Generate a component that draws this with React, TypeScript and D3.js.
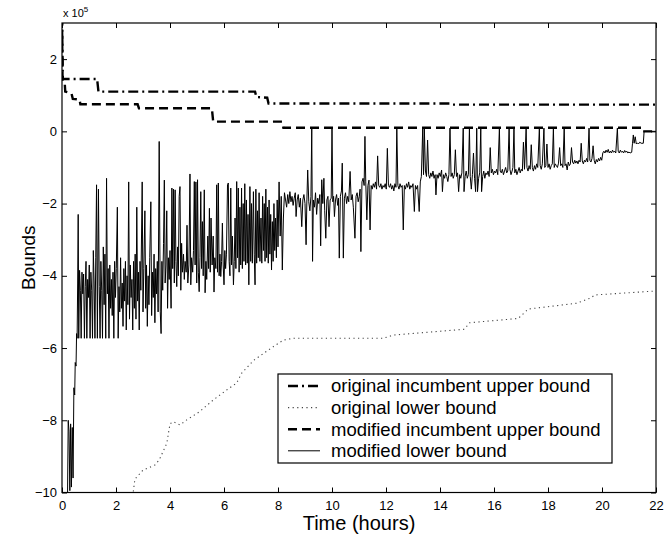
import React, { useEffect, useRef } from "react";
import * as d3 from "d3";

// values are in units of 1e5
const xTicks = [0, 2, 4, 6, 8, 10, 12, 14, 16, 18, 20, 22];
const yTicks = [-10, -8, -6, -4, -2, 0, 2];

const seriesNames = [
  "original incumbent upper bound",
  "original lower bound",
  "modified incumbent upper bound",
  "modified lower bound",
];

// [time (hours), bound]
const origUpper: [number, number][] = [
  [0, 3.2], [0.03, 1.45], [1.3, 1.45], [1.35, 1.1], [7.15, 1.1], [7.2, 0.95],
  [7.6, 0.93], [7.65, 0.77], [14.4, 0.77], [14.45, 0.74], [22, 0.74],
];

const origLower: [number, number][] = [
  [2.62, -10.1], [2.7, -9.63], [3.0, -9.38], [3.44, -9.24], [3.6, -9.1], [3.88, -8.64],
  [4.0, -8.1], [4.12, -8.04], [4.37, -8.13], [4.62, -7.99], [5.1, -7.76], [5.6, -7.44],
  [6.1, -7.16], [6.47, -6.97], [6.65, -6.7], [7.1, -6.34], [7.83, -5.96], [8.2, -5.78],
  [8.57, -5.73], [11.9, -5.73], [12.27, -5.64], [14.9, -5.48], [15.1, -5.3], [16.9, -5.18],
  [17.27, -4.92], [19.06, -4.76], [19.56, -4.62], [19.74, -4.53], [22, -4.42],
];

const modUpper: [number, number][] = [
  [0, 3.2], [0.02, 1.4], [0.1, 1.35], [0.12, 1.1], [0.35, 1.05], [0.4, 0.9], [0.65, 0.88],
  [0.68, 0.75], [2.8, 0.75], [2.85, 0.64], [5.55, 0.64], [5.6, 0.27], [8.15, 0.27],
  [8.2, 0.1], [21.47, 0.1], [21.5, 0.0], [22, 0.0],
];

const modLower: [number, number][] = [
  [0.2, -10.5], [0.23, -8.0], [0.26, -8.3], [0.29, -9.95], [0.32, -8.1], [0.35, -9.85],
  [0.38, -8.2], [0.41, -9.6], [0.44, -7.1], [0.47, -7.3], [0.49, -6.4], [0.52, -6.5],
  [0.54, -5.6], [0.56, -5.73], [0.58, -4.2],
  [0.6, -2.3], [0.62, -5.73], [0.65, -3.85], [0.68, -4.4], [0.71, -5.73], [0.74, -3.9],
  [0.77, -4.5], [0.8, -3.95], [0.83, -5.73], [0.86, -4.3], [0.89, -3.6], [0.92, -5.73],
  [0.95, -4.1], [0.98, -4.6], [1.01, -3.7], [1.04, -5.73], [1.07, -3.9], [1.1, -4.4],
  [1.13, -5.73], [1.16, -3.3], [1.19, -4.2], [1.22, -5.73], [1.25, -3.5], [1.28, -1.48],
  [1.31, -5.73], [1.35, -1.6], [1.38, -4.3], [1.41, -5.73], [1.44, -3.6], [1.47, -4.4],
  [1.5, -5.73], [1.53, -3.2], [1.56, -4.8], [1.59, -3.4], [1.62, -5.73], [1.65, -1.3],
  [1.68, -4.5], [1.71, -3.8], [1.74, -5.73], [1.77, -3.7], [1.8, -4.9], [1.83, -4.1],
  [1.86, -5.1], [1.89, -3.9], [1.92, -5.73], [1.95, -3.6], [1.98, -4.6], [2.01, -3.8],
  [2.05, -2.1], [2.08, -5.73], [2.11, -4.3], [2.14, -5.0], [2.17, -3.5], [2.2, -4.9],
  [2.23, -4.2], [2.26, -5.4], [2.29, -3.8], [2.32, -4.7], [2.35, -3.6], [2.38, -5.5],
  [2.41, -4.0], [2.44, -4.8], [2.47, -1.4], [2.5, -5.2], [2.53, -3.7], [2.56, -4.6],
  [2.59, -4.1], [2.62, -5.5], [2.65, -3.6], [2.68, -4.9], [2.71, -3.4], [2.74, -5.2],
  [2.77, -2.1], [2.8, -4.7], [2.83, -3.9], [2.86, -5.5], [2.89, -3.6], [2.92, -4.4],
  [2.97, -1.4], [3.0, -5.0], [3.03, -3.8], [3.07, -2.2], [3.1, -4.9], [3.13, -3.7],
  [3.16, -5.4], [3.19, -4.0], [3.22, -4.8], [3.25, -3.5], [3.29, -1.95], [3.32, -5.1],
  [3.35, -3.9], [3.38, -4.6], [3.41, -3.4], [3.44, -5.3], [3.47, -3.8], [3.5, -4.5],
  [3.53, -3.6], [3.56, -5.0], [3.6, -0.28], [3.64, -5.0], [3.67, -5.6], [3.7, -3.6],
  [3.73, -4.4], [3.76, -3.1], [3.79, -1.35], [3.82, -4.2], [3.85, -3.7], [3.88, -2.2],
  [3.91, -4.9], [3.94, -3.5], [3.97, -4.1], [4.0, -3.3], [4.04, -4.9], [4.07, -1.57],
  [4.1, -3.8], [4.13, -1.6], [4.16, -4.2], [4.19, -1.62], [4.22, -3.6], [4.25, -4.3],
  [4.28, -3.2], [4.31, -4.0], [4.34, -1.8], [4.37, -1.53], [4.4, -4.4], [4.43, -3.1],
  [4.46, -3.9], [4.5, -3.4], [4.53, -4.1], [4.56, -3.6], [4.6, -3.9], [4.63, -2.6],
  [4.66, -4.2], [4.7, -3.7], [4.74, -1.18], [4.77, -4.25], [4.8, -3.5], [4.84, -3.9],
  [4.87, -3.3], [4.9, -1.39], [4.93, -3.7], [4.96, -1.4], [4.99, -4.2], [5.02, -1.34],
  [5.05, -3.9], [5.08, -4.44], [5.11, -3.5], [5.14, -1.67], [5.17, -3.8], [5.2, -2.5],
  [5.23, -4.0], [5.27, -1.62], [5.3, -4.47], [5.33, -3.6], [5.36, -4.1], [5.4, -2.9],
  [5.43, -3.8], [5.46, -2.13], [5.49, -3.9], [5.52, -2.4], [5.56, -3.7], [5.6, -2.9],
  [5.63, -4.45], [5.66, -3.5], [5.7, -3.8], [5.73, -1.48], [5.76, -3.9], [5.79, -1.43],
  [5.82, -4.0], [5.85, -3.4], [5.88, -4.02], [5.91, -3.6], [5.94, -2.54], [5.97, -3.7],
  [6.0, -4.25], [6.03, -3.3], [6.06, -3.8], [6.09, -3.4], [6.13, -1.48], [6.16, -1.43],
  [6.19, -3.6], [6.22, -4.0], [6.25, -1.57], [6.28, -3.7], [6.31, -2.9], [6.35, -4.25],
  [6.38, -3.6], [6.41, -2.4], [6.44, -3.8], [6.47, -1.39], [6.5, -3.5], [6.53, -1.57],
  [6.56, -3.9], [6.59, -2.1], [6.62, -3.7], [6.65, -1.57], [6.68, -3.8], [6.71, -2.0],
  [6.74, -3.6], [6.77, -1.45], [6.8, -3.7], [6.83, -1.9], [6.86, -3.65], [6.89, -2.3],
  [6.92, -4.25], [6.96, -1.53], [6.99, -3.6], [7.02, -2.0], [7.05, -3.65], [7.09, -1.67],
  [7.12, -3.4], [7.15, -4.25], [7.18, -1.6], [7.21, -3.65], [7.24, -2.2], [7.27, -3.5],
  [7.3, -1.7], [7.33, -3.6], [7.37, -2.4], [7.4, -3.65], [7.43, -1.8], [7.46, -3.3],
  [7.49, -2.0], [7.52, -3.6], [7.55, -1.6], [7.58, -3.5], [7.61, -2.1], [7.64, -3.65],
  [7.67, -1.9], [7.7, -3.4], [7.73, -2.3], [7.76, -3.84], [7.79, -2.5], [7.82, -3.6],
  [7.85, -2.0], [7.88, -3.3], [7.91, -2.4], [7.94, -3.5], [7.97, -1.9], [8.0, -3.2],
  [8.04, -1.4], [8.08, -2.9], [8.12, -1.8], [8.16, -3.84], [8.2, -2.4], [8.24, -1.7],
  [8.28, -1.9], [8.32, -2.1], [8.36, -1.75], [8.4, -2.0], [8.44, -1.67], [8.48, -1.95],
  [8.52, -1.8], [8.56, -2.05], [8.6, -1.85], [8.64, -1.7], [8.67, -2.36], [8.71, -1.9],
  [8.75, -1.75], [8.79, -2.1], [8.83, -1.85], [8.88, -2.64], [8.92, -1.9], [8.96, -1.75],
  [9.0, -2.0], [9.04, -3.14], [9.07, -1.9], [9.1, -1.07], [9.14, -1.95], [9.18, -2.2],
  [9.22, -1.8], [9.25, 0.09], [9.28, -3.6], [9.31, -1.9], [9.35, -2.1], [9.39, -1.7],
  [9.43, -2.3], [9.47, -1.85], [9.51, -2.0], [9.55, -1.75], [9.58, -3.17], [9.62, -1.34],
  [9.66, -2.0], [9.7, -1.3], [9.73, -2.2], [9.77, -2.96], [9.81, -1.9], [9.85, -1.8],
  [9.89, -2.64], [9.93, -1.9], [9.97, -1.85], [10.0, 0.09], [10.03, -1.95], [10.06, -1.8],
  [10.09, -2.36], [10.13, -1.9], [10.17, -1.75], [10.21, -2.05], [10.24, -1.85], [10.27, -3.51],
  [10.31, -1.8], [10.35, -1.65], [10.38, -0.88], [10.42, -3.51], [10.46, -1.85], [10.5, -1.7],
  [10.54, -2.0], [10.58, -1.8], [10.62, -1.95], [10.67, -1.11], [10.71, -1.9], [10.75, -1.75],
  [10.79, -2.1], [10.85, -2.96], [10.89, -1.8], [10.93, -1.7], [10.97, -1.95], [11.01, -1.8],
  [11.04, -1.6], [11.07, -3.33], [11.11, -1.4], [11.15, -1.3], [11.19, -1.5], [11.22, -0.14],
  [11.25, -1.4], [11.29, -2.45], [11.33, -1.5], [11.37, -1.35], [11.41, -2.73], [11.45, -1.5],
  [11.49, -1.6], [11.53, -1.45], [11.57, -1.55], [11.61, -1.4], [11.65, -1.6], [11.69, -0.68],
  [11.73, -1.5], [11.77, -1.55], [11.81, -1.45], [11.85, -1.6], [11.89, -1.5], [11.93, -1.55],
  [11.97, -1.45], [12.01, -1.6], [12.05, -0.47], [12.09, -1.5], [12.13, -1.55], [12.17, -1.45],
  [12.21, -1.6], [12.25, -1.5], [12.29, -1.65], [12.33, -1.45], [12.37, -1.55], [12.4, 0.09],
  [12.44, -1.5], [12.48, -1.6], [12.52, -1.45], [12.56, -1.55], [12.6, -1.5], [12.64, -2.73],
  [12.68, -1.5], [12.72, -1.6], [12.76, -1.45], [12.8, -1.55], [12.84, -1.4], [12.88, -1.6],
  [12.92, -1.5], [12.96, -1.55], [13.0, -1.45], [13.05, -2.22], [13.09, -1.5], [13.13, -1.6],
  [13.17, -1.5], [13.23, -2.22], [13.27, -1.4], [13.31, -1.25], [13.36, 0.09], [13.39, -1.2],
  [13.42, 0.09], [13.46, -1.1], [13.5, -1.25], [13.54, -0.24], [13.58, -1.2], [13.62, -1.3],
  [13.66, -1.15], [13.7, -1.25], [13.74, -1.1], [13.78, -1.3], [13.82, -1.2], [13.85, -1.76],
  [13.89, -1.2], [13.93, -1.3], [13.97, -1.15], [14.01, -1.25], [14.06, -1.07], [14.09, -1.67],
  [14.13, -1.2], [14.17, -1.3], [14.21, -1.15], [14.25, -1.25], [14.29, -1.39], [14.33, -1.2],
  [14.37, 0.09], [14.41, -1.25], [14.45, -1.15], [14.49, -1.3], [14.53, -1.2], [14.57, -0.51],
  [14.61, -1.25], [14.65, -1.15], [14.69, -1.67], [14.73, -1.2], [14.77, -1.3], [14.81, -1.15],
  [14.86, 0.09], [14.89, -1.67], [14.93, -1.25], [14.97, -1.1], [15.01, -1.3], [15.05, -1.2],
  [15.09, 0.09], [15.12, -1.25], [15.16, -1.6], [15.2, -1.2], [15.24, -0.6], [15.28, -1.3],
  [15.32, -1.67], [15.36, 0.09], [15.39, -1.67], [15.43, -1.3], [15.47, -1.15], [15.51, 0.09],
  [15.54, -1.67], [15.58, -1.25], [15.62, -1.1], [15.66, -1.3], [15.7, -1.15], [15.74, -1.2],
  [15.78, -1.1], [15.82, -1.25], [15.86, -0.45], [15.9, -1.15], [15.94, -1.05], [15.98, -1.2],
  [16.02, -1.1], [16.06, -1.15], [16.1, -1.05], [16.14, -1.2], [16.2, 0.09], [16.23, -1.1],
  [16.27, -1.15], [16.31, -1.05], [16.35, -1.2], [16.39, -1.1], [16.43, -1.0], [16.47, -1.15],
  [16.51, -1.1], [16.56, 0.09], [16.59, -1.05], [16.63, -1.2], [16.67, -1.1], [16.7, -1.0],
  [16.74, 0.09], [16.77, -1.15], [16.81, -1.05], [16.85, -1.2], [16.89, -1.1], [16.93, -1.0],
  [16.97, -1.15], [17.01, -1.05], [17.05, -1.1], [17.09, -0.3], [17.13, -1.05], [17.19, 0.09],
  [17.22, -1.0], [17.26, -1.1], [17.3, -0.95], [17.34, -1.05], [17.38, -0.37], [17.42, -1.0],
  [17.46, -1.1], [17.5, -0.95], [17.54, -1.05], [17.58, -0.9], [17.62, -1.0], [17.68, 0.09],
  [17.71, -0.95], [17.75, -1.05], [17.79, -0.9], [17.85, 0.09], [17.88, -1.0], [17.92, -0.95],
  [17.96, -0.35], [18.0, -1.0], [18.04, -0.9], [18.08, -1.05], [18.12, -0.95], [18.16, -0.9],
  [18.2, 0.09], [18.23, -1.0], [18.27, -0.9], [18.31, -0.95], [18.35, -1.0], [18.39, -0.88],
  [18.43, -0.45], [18.47, -0.95], [18.51, -0.9], [18.55, -1.0], [18.6, 0.09], [18.63, -0.95],
  [18.67, -0.9], [18.71, -1.07], [18.75, -0.85], [18.79, -0.95], [18.83, -0.9], [18.87, -0.45],
  [18.91, -0.85], [18.95, -0.9], [18.99, -0.8], [19.03, -0.88], [19.07, -0.82], [19.11, -0.9],
  [19.15, -0.8], [19.19, -0.85], [19.23, -0.33], [19.27, -0.82], [19.31, -0.9], [19.35, -0.8],
  [19.39, -0.85], [19.43, -0.75], [19.47, -0.85], [19.52, 0.09], [19.55, -0.8], [19.59, -0.85],
  [19.63, -0.75], [19.67, -0.4], [19.71, -0.8], [19.75, -0.9], [19.79, -0.78], [19.83, -0.85],
  [19.87, -0.75], [19.91, -0.82], [19.95, -0.72], [19.99, -0.8], [20.03, -0.6], [20.07, -0.55],
  [20.11, -0.6], [20.15, -0.52], [20.19, -0.58], [20.23, -0.5], [20.27, -0.6], [20.31, -0.55],
  [20.35, -0.6], [20.39, -0.52], [20.43, -0.58], [20.47, -0.55], [20.51, -0.6], [20.57, 0.09],
  [20.6, -0.55], [20.64, -0.6], [20.68, -0.52], [20.72, -0.58], [20.76, -0.55], [20.8, -0.6],
  [20.84, -0.53], [20.88, -0.58], [20.92, -0.55], [20.96, -0.6], [21.0, -0.57], [21.04, -0.6],
  [21.1, -0.58], [21.13, -0.33], [21.16, -0.1], [21.19, -0.33], [21.23, -0.15], [21.27, -0.35],
  [21.31, -0.32], [21.35, -0.35], [21.4, -0.3], [21.45, -0.33], [21.53, -0.33], [21.56, 0.0],
  [22, 0.0],
];

const W = 665;
const H = 539;
const FONT = "'Liberation Sans', Arial, Helvetica, sans-serif";

const App = () => {
  const ref = useRef<SVGSVGElement>(null);

  useEffect(() => {
    const svg = d3.select(ref.current);
    svg.selectAll("*").remove();

    const left = 62, right = 656, top = 23, bottom = 492.5;
    const x = d3.scaleLinear().domain([0, 22]).range([left, right]);
    const y = d3.scaleLinear().domain([-10, 3]).range([bottom, top]);

    svg.append("rect").attr("width", W).attr("height", H).attr("fill", "#fff");

    svg
      .append("clipPath")
      .attr("id", "plotclip")
      .append("rect")
      .attr("x", left)
      .attr("y", top)
      .attr("width", right - left)
      .attr("height", bottom - top);

    const line = d3
      .line<[number, number]>()
      .x((d) => x(d[0]))
      .y((d) => y(d[1]));

    const plot = svg.append("g").attr("clip-path", "url(#plotclip)");

    // styles per series (same order as seriesNames)
    const styles = [
      { data: origUpper, dash: "10 4 2 4", width: 2.4, color: "#000" },
      { data: origLower, dash: "1.2 3.4", width: 1.1, color: "#444" },
      { data: modUpper, dash: "9 5", width: 2.4, color: "#000" },
      { data: modLower, dash: null, width: 1, color: "#000" },
    ];

    // draw lower bounds first, upper bounds on top
    [1, 3, 0, 2].forEach((i) => {
      const s = styles[i];
      plot
        .append("path")
        .attr("d", line(s.data))
        .attr("fill", "none")
        .attr("stroke", s.color)
        .attr("stroke-width", s.width)
        .attr("stroke-dasharray", s.dash)
        .attr("stroke-linejoin", "miter");
    });

    // axes, MATLAB style with inward ticks on every side
    const styleAxis = (g: any) => {
      g.select(".domain").remove();
      g.selectAll("line").attr("stroke", "#000");
      g.selectAll("text").attr("font-family", FONT).attr("font-size", 13).attr("fill", "#000");
    };

    svg
      .append("g")
      .attr("transform", `translate(0,${bottom})`)
      .call(d3.axisBottom(x).tickValues(xTicks).tickSizeInner(-5).tickSizeOuter(0).tickPadding(8))
      .call(styleAxis);
    svg
      .append("g")
      .attr("transform", `translate(0,${top})`)
      .call(d3.axisTop(x).tickValues(xTicks).tickSizeInner(-5).tickSizeOuter(0).tickFormat(() => ""))
      .call(styleAxis);
    svg
      .append("g")
      .attr("transform", `translate(${left},0)`)
      .call(d3.axisLeft(y).tickValues(yTicks).tickSizeInner(-5).tickSizeOuter(0).tickPadding(5))
      .call(styleAxis);
    svg
      .append("g")
      .attr("transform", `translate(${right},0)`)
      .call(d3.axisRight(y).tickValues(yTicks).tickSizeInner(-5).tickSizeOuter(0).tickFormat(() => ""))
      .call(styleAxis);

    svg
      .append("rect")
      .attr("x", left)
      .attr("y", top)
      .attr("width", right - left)
      .attr("height", bottom - top)
      .attr("fill", "none")
      .attr("stroke", "#000")
      .attr("stroke-width", 1.2);

    // exponent label
    const expo = svg
      .append("text")
      .attr("x", left + 1)
      .attr("y", 17)
      .attr("font-family", FONT)
      .attr("font-size", 11)
      .text("x 10");
    expo.append("tspan").attr("dy", -5).attr("font-size", 8).text("5");

    svg
      .append("text")
      .attr("x", (left + right) / 2)
      .attr("y", 530)
      .attr("text-anchor", "middle")
      .attr("font-family", FONT)
      .attr("font-size", 20)
      .text("Time (hours)");

    svg
      .append("text")
      .attr("transform", `translate(35,${(top + bottom) / 2}) rotate(-90)`)
      .attr("text-anchor", "middle")
      .attr("font-family", FONT)
      .attr("font-size", 19)
      .text("Bounds");

    // legend
    const lg = svg.append("g");
    lg.append("rect")
      .attr("x", 278)
      .attr("y", 374)
      .attr("width", 334)
      .attr("height", 89)
      .attr("fill", "#fff")
      .attr("stroke", "#000")
      .attr("stroke-width", 1.2);
    seriesNames.forEach((name, i) => {
      const s = styles[i];
      const cy = 386 + i * 21.6;
      lg.append("line")
        .attr("x1", 288)
        .attr("x2", 320)
        .attr("y1", cy)
        .attr("y2", cy)
        .attr("stroke", s.color)
        .attr("stroke-width", s.width)
        .attr("stroke-dasharray", s.dash);
      lg.append("text")
        .attr("x", 331)
        .attr("y", cy)
        .attr("dy", "0.35em")
        .attr("font-family", FONT)
        .attr("font-size", 18.5)
        .text(name);
    });
  }, []);

  return (
    <svg
      ref={ref}
      width={W}
      height={H}
      style={{ position: "absolute", left: 0, top: 0 }}
    />
  );
};

export default App;
